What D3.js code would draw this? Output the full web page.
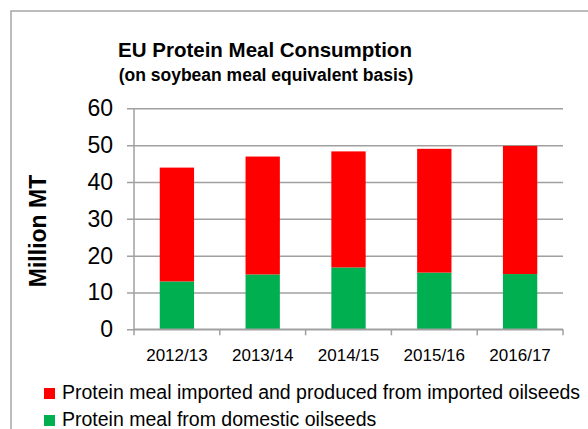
<!DOCTYPE html>
<html>
<head>
<meta charset="utf-8">
<script src="https://cdn.jsdelivr.net/npm/d3@7"></script>
<style>
  body { margin: 0; background: #fff; }
  svg { display: block; font-family: "Liberation Sans", Arial, sans-serif; }
</style>
</head>
<body>
<div id="chart"></div>
<script>
var years = ["2012/13", "2013/14", "2014/15", "2015/16", "2016/17"];
var domestic = [13.0, 14.9, 16.8, 15.4, 15.0];
var imported = [30.9, 32.0, 31.5, 33.6, 34.8];
var seriesNames = ["Protein meal imported and produced from imported oilseeds", "Protein meal from domestic oilseeds"];
var yTicks = [0, 10, 20, 30, 40, 50, 60];

var svg = d3.select("#chart")
  .append("svg")
  .attr("width", 588)
  .attr("height", 429);

// outer chart frame
svg.append("rect")
  .attr("x", 11).attr("y", 11)
  .attr("width", 600).attr("height", 440)
  .attr("fill", "none")
  .attr("stroke", "#a6a6a6")
  .attr("stroke-width", 1.5);

var plotLeft = 134, plotRight = 563, plotTop = 108.3, plotBottom = 329.3;

var x = d3.scaleBand().domain(years).range([plotLeft, plotRight]).padding(0);
var y = d3.scaleLinear().domain([0, 60]).range([plotBottom, plotTop]);

// gridlines + y labels
var yAxis = d3.axisLeft(y).tickValues(yTicks)
  .tickSizeInner(-(plotRight - 127)).tickSizeOuter(0).tickPadding(14);
var gy = svg.append("g").attr("transform", "translate(127,0)").call(yAxis);
gy.select(".domain").remove();
gy.selectAll(".tick line").attr("stroke", "#a0a0a0").attr("stroke-width", 1.5);
gy.selectAll(".tick text").attr("font-size", 23).attr("fill", "#000")
  .attr("font-family", "Liberation Sans, Arial, sans-serif");

// y axis line
svg.append("line")
  .attr("x1", plotLeft).attr("x2", plotLeft)
  .attr("y1", y(0)).attr("y2", y(60))
  .attr("stroke", "#a0a0a0").attr("stroke-width", 1.5);

// stacked bars
var data = years.map(function(d, i) {
  return { year: d, domestic: domestic[i], imported: imported[i] };
});
var stack = d3.stack().keys(["domestic", "imported"]);
var colors = { domestic: "#00b050", imported: "#ff0000" };
var barW = x.bandwidth() * 0.4;

svg.selectAll(".layer")
  .data(stack(data))
  .enter().append("g")
  .attr("fill", function(d) { return colors[d.key]; })
  .selectAll("rect")
  .data(function(d) { return d; })
  .enter().append("rect")
  .attr("x", function(d) { return x(d.data.year) + (x.bandwidth() - barW) / 2; })
  .attr("width", barW)
  .attr("y", function(d) { return y(d[1]); })
  .attr("height", function(d) { return y(d[0]) - y(d[1]); });

// x axis
svg.append("line")
  .attr("x1", plotLeft).attr("x2", plotRight)
  .attr("y1", y(0)).attr("y2", y(0))
  .attr("stroke", "#a0a0a0").attr("stroke-width", 1.5);
var bounds = years.map(function(d) { return x(d); }).concat([plotRight]);
svg.selectAll(".xtick")
  .data(bounds)
  .enter().append("line")
  .attr("x1", function(d) { return d; }).attr("x2", function(d) { return d; })
  .attr("y1", y(0)).attr("y2", y(0) + 6)
  .attr("stroke", "#a0a0a0").attr("stroke-width", 1.5);
svg.selectAll(".xlabel")
  .data(years)
  .enter().append("text")
  .attr("x", function(d) { return x(d) + x.bandwidth() / 2; })
  .attr("y", 361)
  .attr("text-anchor", "middle")
  .attr("font-size", 17)
  .text(function(d) { return d; });

// titles
svg.append("text")
  .attr("x", 265).attr("y", 57)
  .attr("text-anchor", "middle")
  .attr("font-size", 20.5).attr("font-weight", "bold")
  .text("EU Protein Meal Consumption");
svg.append("text")
  .attr("x", 266).attr("y", 81)
  .attr("text-anchor", "middle")
  .attr("font-size", 17.5).attr("font-weight", "bold")
  .text("(on soybean meal equivalent basis)");

svg.append("text")
  .attr("transform", "translate(46,231) rotate(-90)")
  .attr("text-anchor", "middle")
  .attr("font-size", 23).attr("font-weight", "bold")
  .text("Million MT");

// legend
var legend = svg.selectAll(".legend")
  .data(seriesNames)
  .enter().append("g")
  .attr("transform", function(d, i) { return "translate(44," + (388 + i * 27) + ")"; });
legend.append("rect")
  .attr("width", 11).attr("height", 11)
  .attr("fill", function(d, i) { return i === 0 ? colors.imported : colors.domestic; });
legend.append("text")
  .attr("x", 18).attr("y", 11)
  .attr("font-size", 19.5)
  .text(function(d) { return d; });
</script>
</body>
</html>
